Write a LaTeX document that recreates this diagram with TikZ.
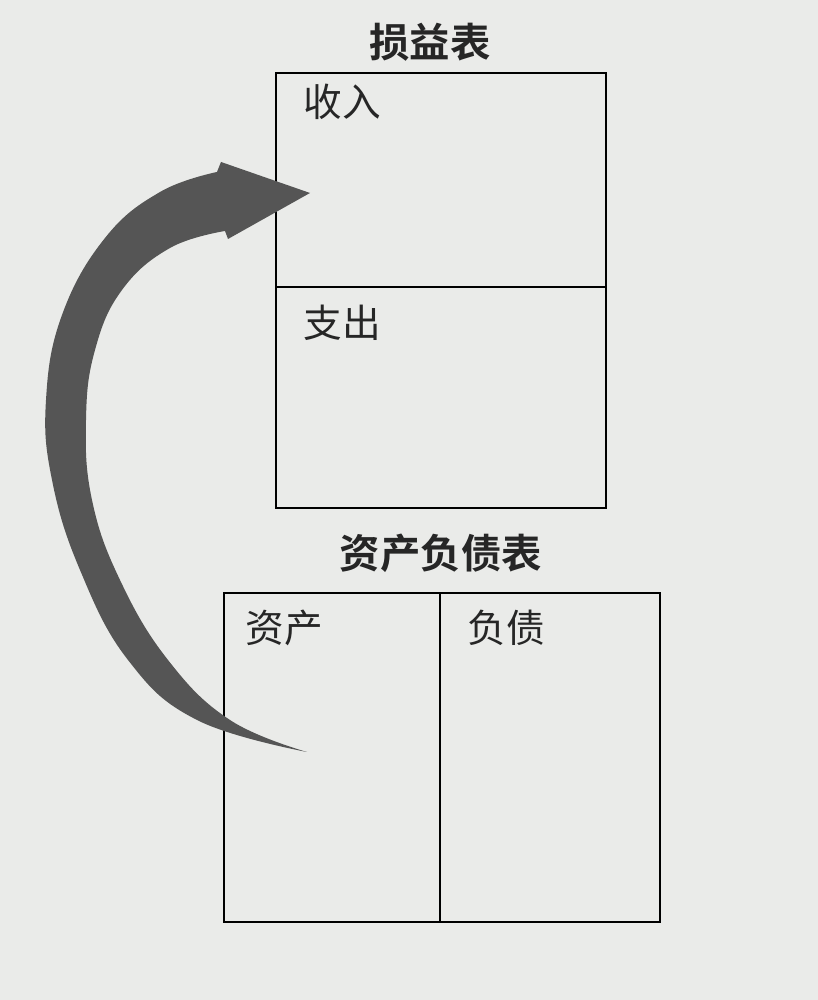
\documentclass[tikz,border=0pt]{standalone}
\usepackage{fontspec}
\newfontfamily\cjk{Noto Sans CJK SC}
\newfontfamily\cjkbold{Noto Sans CJK SC Bold}
\definecolor{paper}{RGB}{234,235,233}
\definecolor{arrowgray}{RGB}{85,85,85}
\tikzset{
  panel/.style={draw=black,line width=0.8pt,rectangle,inner sep=0pt},
  divider/.style={draw=black,line width=0.8pt},
  title/.style={font=\cjkbold\fontsize{11.5}{13}\selectfont,inner sep=0pt,text=black!85},
  label/.style={font=\cjk\fontsize{11}{13}\selectfont,inner sep=0pt,anchor=west,text=black!85},
}
\begin{document}
\begin{tikzpicture}
\fill[paper] (0,0) rectangle (8.18,10);
\useasboundingbox (0,0) rectangle (8.18,10);
% income statement
\node[panel,minimum width=3.30cm,minimum height=4.35cm] (pl) at (4.41,7.095) {};
\coordinate (plL) at (2.76,7.13);
\coordinate (plR) at (6.06,7.13);
\draw[divider] (plL) -- (plR);
\node[title] (plt) at (4.30,9.58) {损益表};
\node[label] (inc) at (3.03,8.98) {收入};
\node[label] (exp) at (3.03,6.77) {支出};
% balance sheet
\node[panel,minimum width=4.36cm,minimum height=3.29cm] (bs) at (4.42,2.425) {};
\coordinate (bsT) at (4.40,4.07);
\coordinate (bsB) at (4.40,0.78);
\draw[divider] (bsT) -- (bsB);
\node[title] (bst) at (4.41,4.47) {资产负债表};
\node[label] (ast) at (2.45,3.72) {资产};
\node[label] (lia) at (4.67,3.72) {负债};
% curved arrow
\fill[arrowgray]
  plot[smooth,tension=0.7] coordinates {(3.07,2.48) (1.97,2.80) (1.28,3.40) (0.80,4.30) (0.52,5.20) (0.46,6.00) (0.62,6.85) (1.05,7.62) (1.60,8.08) (2.17,8.28)}
  -- (2.21,8.38) -- (3.10,8.07) -- (2.28,7.61) --
  plot[smooth,tension=0.7] coordinates {(2.25,7.69) (1.70,7.52) (1.22,7.10) (0.95,6.50) (0.86,5.80) (0.92,5.00) (1.20,4.20) (1.68,3.40) (2.30,2.80) (3.07,2.48)}
  -- cycle;
\end{tikzpicture}
\end{document}
